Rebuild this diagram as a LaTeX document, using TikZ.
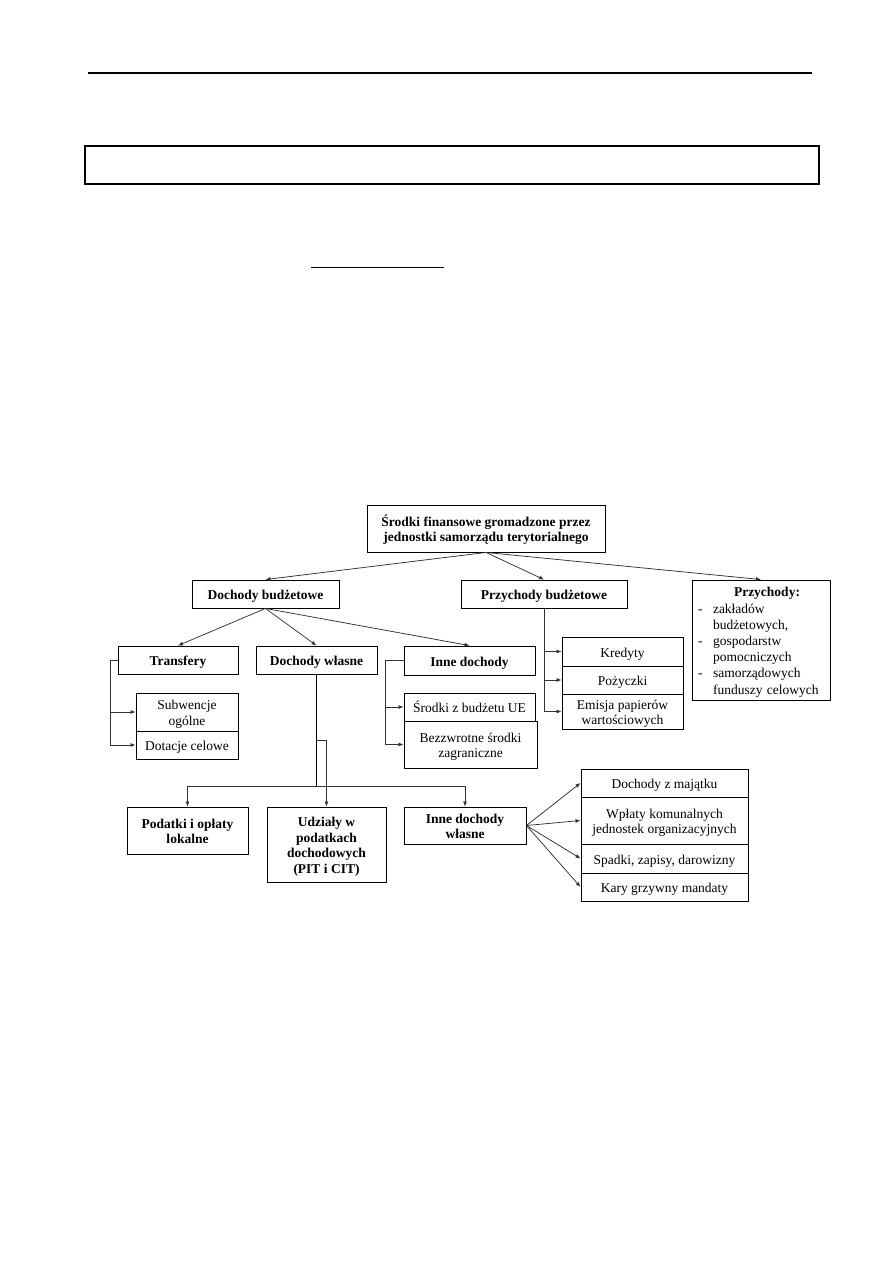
\documentclass[tikz,border=0pt]{standalone}
\usepackage{fontspec}
\setmainfont{Liberation Serif}
\usetikzlibrary{arrows.meta,calc}
\newcommand\fstrut{\rule{0pt}{15pt}}
\begin{document}
\begin{tikzpicture}[x=1pt,y=-1pt,
 box/.style={draw=black, line width=0.9pt, inner sep=0pt, align=center,
   font=\fontsize{13.5}{15.5}\selectfont,
   execute at begin node={\rule{0pt}{15pt}},
   execute at end node={\rule[-4pt]{0pt}{4pt}}},
 bbox/.style={box, font=\fontsize{13.5}{15.5}\selectfont\bfseries},
 conn/.style={draw=black!80, line width=0.75pt},
 arr/.style={conn, -{Latex[length=5pt,width=4pt]}},
]
\useasboundingbox (0,0) rectangle (893,1263);
\fill[white] (0,0) rectangle (893,1263);
% page header elements
\draw[line width=1.2pt] (88,73) -- (812,73);
\draw[line width=1.2pt] (85,146) rectangle (819,184);
\draw[line width=1pt] (311,267) -- (444,267);
% boxes
\node[bbox, minimum width=238, minimum height=47] (root) at (486,528.5) {\fstrut Środki finansowe gromadzone przez\\jednostki samorządu terytorialnego};
\node[bbox, minimum width=147, minimum height=28] (db) at (265.5,594) {Dochody budżetowe};
\node[bbox, minimum width=166, minimum height=28] (pb) at (544,594) {Przychody budżetowe};
\node[box, minimum width=138, minimum height=120, text width=126, align=left,
      font=\fontsize{13.5}{16.2}\selectfont] (prz) at (761,640)
 {\hspace*{36pt}\textbf{Przychody:}\\
  \makebox[15pt][l]{-}zakładów\\
  \hspace*{15pt}budżetowych,\\
  \makebox[15pt][l]{-}gospodarstw\\
  \hspace*{15pt}pomocniczych\\
  \makebox[15pt][l]{-}samorządowych\\
  \hspace*{15pt}funduszy celowych};
\node[bbox, minimum width=120, minimum height=28] (tr) at (178,660) {Transfery};
\node[bbox, minimum width=121, minimum height=28] (dw) at (316.5,660) {Dochody własne};
\node[bbox, minimum width=131, minimum height=29] (id) at (469.5,660.5) {Inne dochody};
\node[box, minimum width=102, minimum height=38] (sub) at (187,712) {\fstrut Subwencje\\ogólne};
\node[box, minimum width=102, minimum height=28] (dot) at (187,745) {Dotacje celowe};
\node[box, minimum width=131, minimum height=28] (ue) at (469.5,707) {Środki z budżetu UE};
\node[box, minimum width=133, minimum height=47] (bez) at (470.5,744.5) {\fstrut Bezzwrotne środki\\zagraniczne};
\node[box, minimum width=121, minimum height=29] (kr) at (622.5,651.5) {Kredyty};
\node[box, minimum width=121, minimum height=28] (po) at (622.5,680) {Pożyczki};
\node[box, minimum width=121, minimum height=35] (em) at (622.5,711.5) {\fstrut Emisja papierów\\wartościowych};
\node[bbox, minimum width=121, minimum height=47] (pod) at (187.5,830.5) {\fstrut Podatki i opłaty\\lokalne};
\node[bbox, minimum width=119, minimum height=75] (udz) at (326.5,844.5) {\fstrut Udziały w\\podatkach\\dochodowych\\(PIT i CIT)};
\node[bbox, minimum width=122, minimum height=37] (idw) at (465,825.5) {\fstrut Inne dochody\\własne};
\node[box, minimum width=167, minimum height=28] (r1) at (664.5,783) {Dochody z majątku};
\node[box, minimum width=167, minimum height=47] (r2) at (664.5,820.5) {\fstrut Wpłaty komunalnych\\jednostek organizacyjnych};
\node[box, minimum width=167, minimum height=29] (r3) at (664.5,858.5) {Spadki, zapisy, darowizny};
\node[box, minimum width=167, minimum height=28] (r4) at (664.5,887) {Kary grzywny mandaty};
% connectors
\draw[arr] (root.south) -- (db.north);
\draw[arr] (root.south) -- (pb.north);
\draw[arr] (root.south) -- (prz.north);
\draw[arr] (db.south) -- (tr.north);
\draw[arr] (db.south) -- (dw.north);
\draw[arr] (db.south) -- (id.north);
\draw[arr] (tr.west) -- ++(-7,0) |- (sub.west);
\draw[arr] (tr.west) -- ++(-7,0) |- (dot.west);
\draw[arr] (id.west) -- ++(-18,0) |- (ue.west);
\draw[arr] (id.west) -- ++(-18,0) |- (bez.west);
\draw[arr] (pb.south) |- (kr.west);
\draw[arr] (pb.south) |- (po.west);
\draw[arr] (pb.south) |- (em.west);
\coordinate (dwj) at ($(dw.south)+(0,112)$);
\coordinate (dwm) at ($(dw.south)+(0,66)$);
\draw[arr] (dwj) -| (pod.north);
\draw[arr] (dwj) -| (idw.north);
\draw[arr] (dwm) -| (udz.north);
\draw[black, line width=1.4pt] (dw.south) -- (dwj);
\draw[arr] (idw.east) -- (r1.west);
\draw[arr] (idw.east) -- (r2.west);
\draw[arr] (idw.east) -- (r3.west);
\draw[arr] (idw.east) -- (r4.west);
\end{tikzpicture}
\end{document}
